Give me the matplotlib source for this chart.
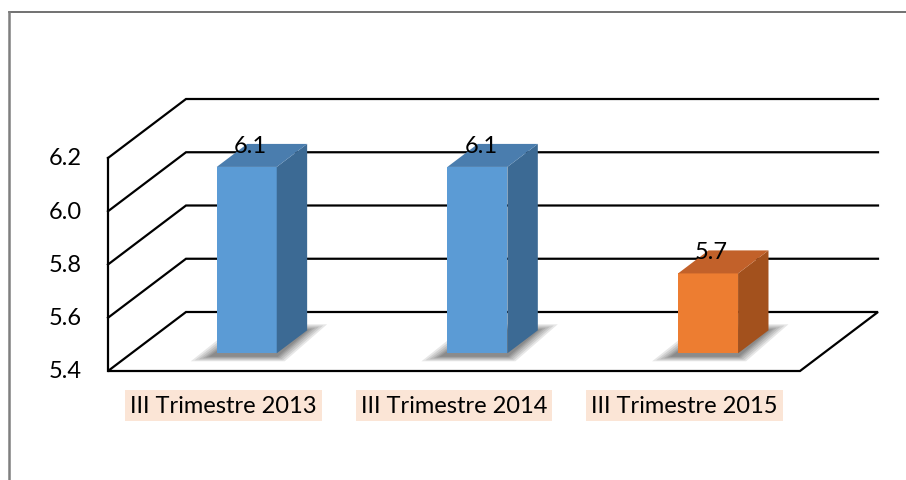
import numpy as np
import matplotlib.pyplot as plt
from matplotlib.patches import Polygon
from matplotlib.lines import Line2D

plt.rcParams['font.family'] = ['Lato', 'DejaVu Sans']

# 数据
categories = ['III Trimestre 2013', 'III Trimestre 2014', 'III Trimestre 2015']
values = [6.1, 6.1, 5.7]
value_labels = ['6.1', '6.1', '5.7']
yticks = [5.4, 5.6, 5.8, 6.0, 6.2]
ymin, ymax = 5.4, 6.2

# 颜色 (正面, 侧面, 顶面)
blue = ('#5B9BD5', '#3C6A94', '#4A7DAE')
orange = ('#ED7D31', '#A3511D', '#C2612A')
bar_colors = [blue, blue, orange]
label_bg = '#FBE5D6'

W, H = 906, 481
fig = plt.figure(figsize=(W / 100, H / 100), dpi=100)
ax = fig.add_axes([0, 0, 1, 1])
ax.axis('off')

# 伪3D布局: 前平面像素锚点
px0, px3 = 108, 800          # 类别轴 0 和 3 的像素位置
py_lo, py_hi = 372, 159      # 5.4 和 6.2 的像素位置
sx = (px3 - px0) / 3
sy = (py_lo - py_hi) / (ymax - ymin)
ax.set_xlim(-px0 / sx, (W - px0) / sx)
ax.set_ylim(ymin - (H - py_lo) / sy, ymin + py_lo / sy)

dx, dy = 78 / sx, 59 / sy    # 背墙深度偏移
n = len(categories)

# 网格线 (左墙斜线 + 背墙横线)
for t in yticks[1:]:
    ax.plot([0, dx, n + dx], [t, t + dy, t + dy], color='black', lw=1.6,
            solid_joinstyle='miter', zorder=1)
# 左前竖线
ax.plot([0, 0], [ymin, ymax], color='black', lw=1.6, zorder=1)
# 底面
floor = Polygon([(0, ymin), (dx, ymin + dy), (n + dx, ymin + dy), (n, ymin)],
                closed=True, fill=False, edgecolor='black', lw=1.6,
                joinstyle='miter', zorder=1)
ax.add_patch(floor)

# y轴刻度标签
for t in yticks:
    ax.annotate(f'{t:.1f}', (0, t), xytext=(-19, 0), textcoords='offset points',
                ha='right', va='center', fontsize=17, color='black')

# 柱子
bw = 60 / sx
fd, bd = 0.30, 0.39          # 柱子前面所在深度, 柱子深度
for i, (v, cols) in enumerate(zip(values, bar_colors)):
    x0 = i + 0.5 - bw / 2 + fd * dx
    x1 = x0 + bw
    b0 = ymin + fd * dy
    t0 = v + fd * dy
    ddx, ddy = bd * dx, bd * dy

    # 阴影 (多层半透明, 模拟模糊)
    for g in [20, 16, 12, 8, 5, 2]:
        gx, gy = g / sx, g / sy
        shadow = Polygon([(x0 - gx - 6 / sx, b0 - (3 + 0.25 * g) / sy),
                          (x1 + 0.4 * gx, b0 - (3 + 0.25 * g) / sy),
                          (x1 + ddx + gx, b0 + ddy + 0.3 * gy),
                          (x0 + ddx - 0.5 * gx, b0 + ddy + 0.3 * gy)],
                         closed=True, facecolor='black', edgecolor='none',
                         alpha=0.095, zorder=2)
        ax.add_patch(shadow)

    front = Polygon([(x0, b0), (x1, b0), (x1, t0), (x0, t0)], closed=True,
                    facecolor=cols[0], edgecolor='none', zorder=3)
    side = Polygon([(x1, b0), (x1 + ddx, b0 + ddy), (x1 + ddx, t0 + ddy), (x1, t0)],
                   closed=True, facecolor=cols[1], edgecolor='none', zorder=3)
    top = Polygon([(x0, t0), (x1, t0), (x1 + ddx, t0 + ddy), (x0 + ddx, t0 + ddy)],
                  closed=True, facecolor=cols[2], edgecolor='none', zorder=3)
    for p in (front, side, top):
        ax.add_patch(p)

    ax.text((x0 + x1) / 2 + 0.015, t0 + ddy * 0.95, value_labels[i],
            ha='center', va='center', fontsize=17, color='black', zorder=4)

# 类别标签
for i, c in enumerate(categories):
    ax.annotate(c, (i + 0.5, ymin), xytext=(0, -25), textcoords='offset points',
                ha='center', va='center', fontsize=17, color='black',
                bbox=dict(boxstyle='square,pad=0.22', facecolor=label_bg,
                          edgecolor='none'))

# 外框
fig.add_artist(Line2D([9 / W, 1], [1 - 13 / H, 1 - 13 / H], color='#595959', lw=1.2))
fig.add_artist(Line2D([9 / W, 9 / W], [0, 1 - 13 / H], color='#7F7F7F', lw=1.8))

fig.savefig('out.png', dpi=100)
